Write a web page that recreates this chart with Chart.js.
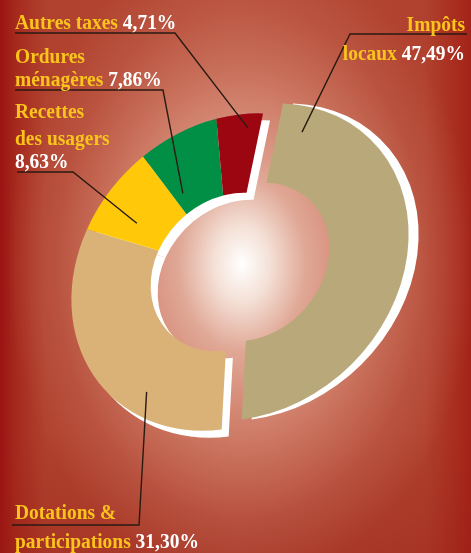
<!DOCTYPE html>
<html><head><meta charset="utf-8">
<script src="https://cdn.jsdelivr.net/npm/chart.js@4.4.1/dist/chart.umd.min.js"></script>
<style>
html,body{margin:0;padding:0;background:#b04530;}
#wrap{width:471px;height:553px;position:relative;overflow:hidden;
background:
 radial-gradient(ellipse 235px 320px at 242px 264px, rgba(255,255,255,1) 0%, rgba(244,224,214,1) 12%, rgba(224,168,150,1) 27%, rgba(214,140,120,0.95) 45%, rgba(206,122,100,0.75) 62%, rgba(200,112,92,0.35) 80%, rgba(200,112,92,0) 100%),
 linear-gradient(to bottom, rgba(150,30,20,0) 0%, rgba(150,30,20,0) 78%, rgba(150,30,20,0.35) 100%),
 linear-gradient(to right, #9c1212 0px, #a62a1e 16px, #b0412e 45px, #b54b37 235px, #b0412e 425px, #a82c1e 458px, #a42218 471px);}
canvas{display:block;}
</style></head><body>
<div id="wrap"><canvas id="c" width="471" height="553"></canvas></div>
<script>
// ---- data ----
const categories = [['Impôts', 'locaux'], ['Dotations &', 'participations'], ['Recettes', 'des usagers'], ['Ordures', 'ménagères'], ['Autres taxes']];
const shares = [47.49, 31.30, 8.63, 7.86, 4.71];
const sliceColors = ['#b9a97a', '#dab278', '#ffc90a', '#008f45', '#9c0610'];

// ---- styling / layout ----
const GOLD = '#fac41c';
const FONT = 'bold 22px "Liberation Serif", "DejaVu Serif", serif';
const TEXT_SX = 0.885;
const EA = 1.095, EB = 0.918;               // slight tilt of the ring (ellipse)
const m11 = (EA + EB) / 2, m12 = (EB - EA) / 2, m21 = m12, m22 = m11;
const EXPLODE = [[20, -10], [0, 0], [0, 0], [0, 0], [0, 0]];
const WHITE_SHIFT = [[30, -10], [7, 7], [7, 7], [7, 7], [7, 7]];
const labelLayout = [
  {align: 'right', x: 465, ys: [31, 60], rule: [467, 350, 34], anchor: [0.064, 0.68]},
  {align: 'left', x: 15, ys: [519, 548], rule: [12, 139, 525], anchor: [0.31, 0.71]},
  {align: 'left', x: 15, ys: [118, 145, 168], ownPctLine: true, rule: [17, 73, 172], anchor: [0.31, 0.44]},
  {align: 'left', x: 15, ys: [63, 86], rule: [15, 163, 90], anchor: [0.18, 0.26]},
  {align: 'left', x: 15, ys: [29], rule: [15, 175, 33], anchor: [0.71, 0.82]}
];
const fmtPct = v => v.toFixed(2).replace('.', ',') + '%';

function placeArc(ctx, el, shift) {
  ctx.translate(el.x + shift[0], el.y + shift[1]);
  ctx.transform(m11, m21, m12, m22, 0, 0);
  ctx.translate(-el.x, -el.y);
}
function arcPoint(el, i, fa, fr) {
  const ang = el.startAngle + (el.endAngle - el.startAngle) * fa;
  const r = el.innerRadius + (el.outerRadius - el.innerRadius) * fr;
  const px = r * Math.cos(ang), py = r * Math.sin(ang);
  return [el.x + EXPLODE[i][0] + m11 * px + m12 * py, el.y + EXPLODE[i][1] + m21 * px + m22 * py];
}

const ringPlugin = {
  id: 'ring',
  beforeDatasetsDraw(chart) {
    const ctx = chart.ctx;
    const arcs = chart.getDatasetMeta(0).data;
    arcs.forEach((el, i) => {
      ctx.save();
      placeArc(ctx, el, WHITE_SHIFT[i]);
      const orig = el.options;
      el.options = Object.assign({}, orig, {backgroundColor: '#ffffff', borderColor: '#ffffff'});
      el.draw(ctx);
      el.options = orig;
      ctx.restore();
    });
    arcs.forEach((el, i) => {
      ctx.save();
      placeArc(ctx, el, EXPLODE[i]);
      el.draw(ctx);
      ctx.restore();
    });
    return false;
  },
  afterDraw(chart) {
    const ctx = chart.ctx;
    const arcs = chart.getDatasetMeta(0).data;
    ctx.save();
    // leader lines
    ctx.strokeStyle = '#2a1a12';
    ctx.lineWidth = 1.4;
    labelLayout.forEach((L, i) => {
      const [x1, x2, y] = L.rule;
      const p = arcPoint(arcs[i], i, L.anchor[0], L.anchor[1]);
      ctx.beginPath();
      ctx.moveTo(x1, y);
      ctx.lineTo(x2, y);
      ctx.lineTo(p[0], p[1]);
      ctx.stroke();
    });
    // texts
    ctx.font = FONT;
    ctx.textBaseline = 'alphabetic';
    ctx.textAlign = 'left';
    labelLayout.forEach((L, i) => {
      const lines = categories[i].slice();
      const pct = fmtPct(shares[i]);
      const runs = lines.map(t => [[t, GOLD]]);
      if (L.ownPctLine) runs.push([[pct, '#ffffff']]);
      else runs[runs.length - 1].push([' ' + pct, '#ffffff']);
      runs.forEach((run, k) => {
        const w = run.reduce((s, r) => s + ctx.measureText(r[0]).width, 0) * TEXT_SX;
        let x = L.align === 'right' ? L.x - w : L.x;
        run.forEach(r => {
          ctx.save();
          ctx.translate(x, L.ys[k]);
          ctx.scale(TEXT_SX, 1);
          ctx.fillStyle = r[1];
          ctx.fillText(r[0], 0, 0);
          ctx.restore();
          x += ctx.measureText(r[0]).width * TEXT_SX;
        });
      });
    });
    ctx.restore();
  }
};

new Chart(document.getElementById('c'), {
  type: 'doughnut',
  data: {
    labels: categories,
    datasets: [{data: shares, backgroundColor: sliceColors, borderWidth: 0}]
  },
  options: {
    responsive: false,
    animation: false,
    events: [],
    devicePixelRatio: 1,
    rotation: 7,
    radius: 157,
    cutout: '50%',
    layout: {padding: {left: 0, right: 11, top: 0, bottom: 9}},
    plugins: {legend: {display: false}, tooltip: {enabled: false}}
  },
  plugins: [ringPlugin]
});
</script>
</body></html>
